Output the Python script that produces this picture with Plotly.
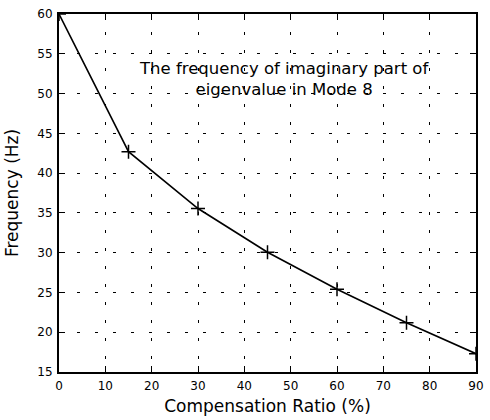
import plotly.graph_objects as go

comp_ratio = [0, 15, 30, 45, 60, 75, 90]
frequency = [60.0, 42.7, 35.55, 30.05, 25.4, 21.2, 17.3]

x_ticks = [0, 10, 20, 30, 40, 50, 60, 70, 80, 90]
y_ticks = [15, 20, 25, 30, 35, 40, 45, 50, 55, 60]

FONT = "DejaVu Sans"

fig = go.Figure()
fig.add_trace(go.Scatter(
    x=comp_ratio, y=frequency, mode="lines+markers",
    line=dict(color="black", width=1.6),
    marker=dict(symbol="cross-thin", size=10, line=dict(color="black", width=1.5)),
    showlegend=False,
))

axis_common = dict(
    showline=True, linecolor="black", linewidth=2, mirror="ticks",
    ticks="inside", ticklen=6, tickwidth=1.2, tickcolor="black",
    showgrid=True, gridcolor="black", gridwidth=1, griddash="3px,15px",
    zeroline=False, tickfont=dict(family=FONT, size=12, color="black"),
)

fig.update_xaxes(
    range=[0, 90], tickvals=x_ticks, ticktext=[str(v) for v in x_ticks],
    title=dict(text="Compensation Ratio (%)", font=dict(family=FONT, size=17, color="black"), standoff=8),
    ticklabelstandoff=2,
    **axis_common,
)
fig.update_yaxes(
    range=[15, 60], tickvals=y_ticks, ticktext=[str(v) for v in y_ticks],
    title=dict(text="Frequency (Hz)", font=dict(family=FONT, size=17, color="black"), standoff=14),
    ticklabelstandoff=2,
    **axis_common,
)

fig.add_annotation(
    x=48.5, y=51.8, xref="x", yref="y",
    text="The frequency of imaginary part of<br>eigenvalue in Mode 8",
    showarrow=False, align="center",
    font=dict(family=FONT, size=16.5, color="black"),
)

fig.update_layout(
    width=490, height=420,
    margin=dict(l=59, r=6, t=14, b=48),
    paper_bgcolor="white", plot_bgcolor="white",
)

fig.write_html("out.html")
